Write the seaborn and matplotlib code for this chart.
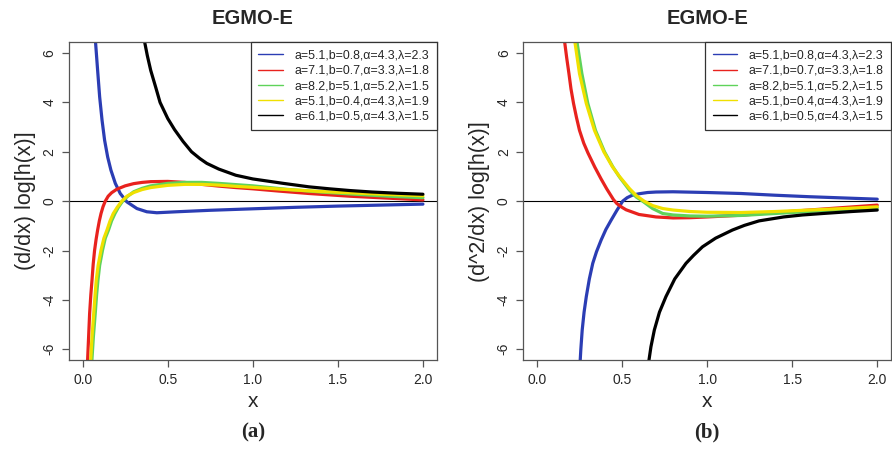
import matplotlib
matplotlib.use("Agg")
import matplotlib.pyplot as plt
import pandas as pd
import seaborn as sns

labels = ["a=5.1,b=0.8,α=4.3,λ=2.3",
          "a=7.1,b=0.7,α=3.3,λ=1.8",
          "a=8.2,b=5.1,α=5.2,λ=1.5",
          "a=5.1,b=0.4,α=4.3,λ=1.9",
          "a=6.1,b=0.5,α=4.3,λ=1.5"]
colors = ["#2b3db4", "#e8221e", "#5fd35a", "#f0e000", "#000000"]

# panel (a): (d/dx) log[h(x)]
blue_a_x = [0.074, 0.088, 0.100, 0.114, 0.129, 0.147, 0.166, 0.192, 0.221, 0.26, 0.319, 0.377, 0.436, 0.553, 0.75, 1.0, 1.25, 1.5, 1.75, 2.0]
blue_a_y = [6.6, 5.30, 4.22, 3.28, 2.47, 1.79, 1.26, 0.72, 0.31, -0.03, -0.30, -0.43, -0.47, -0.43, -0.37, -0.31, -0.25, -0.2, -0.16, -0.12]
red_a_x = [0.028, 0.035, 0.041, 0.048, 0.055, 0.062, 0.07, 0.079, 0.088, 0.098, 0.108, 0.12, 0.133, 0.15, 0.17, 0.2, 0.25, 0.3, 0.35, 0.4, 0.5, 0.6, 0.7, 0.8, 0.9, 1.0, 1.15, 1.33, 1.57, 1.8, 2.0]
red_a_y = [-6.6, -5.5, -4.55, -3.8, -3.2, -2.55, -2.0, -1.55, -1.17, -0.8, -0.5, -0.22, 0.0, 0.2, 0.34, 0.48, 0.62, 0.71, 0.76, 0.79, 0.8, 0.76, 0.68, 0.61, 0.55, 0.5, 0.41, 0.31, 0.2, 0.12, 0.05]
green_a_x = [0.053, 0.063, 0.074, 0.082, 0.09, 0.1, 0.117, 0.133, 0.152, 0.17, 0.19, 0.21, 0.235, 0.265, 0.3, 0.35, 0.4, 0.5, 0.6, 0.7, 0.8, 0.9, 1.0, 1.2, 1.4, 1.6, 1.8, 2.0]
green_a_y = [-6.6, -5.5, -4.55, -3.8, -3.2, -2.6, -1.98, -1.5, -1.17, -0.8, -0.5, -0.25, 0.0, 0.2, 0.38, 0.52, 0.62, 0.72, 0.76, 0.76, 0.72, 0.67, 0.62, 0.48, 0.37, 0.28, 0.2, 0.14]
yellow_a_x = [0.046, 0.055, 0.065, 0.073, 0.08, 0.091, 0.108, 0.125, 0.143, 0.161, 0.18, 0.203, 0.23, 0.26, 0.3, 0.35, 0.4, 0.5, 0.6, 0.7, 0.8, 0.9, 1.0, 1.2, 1.4, 1.6, 1.8, 2.0]
yellow_a_y = [-6.6, -5.5, -4.55, -3.8, -3.2, -2.6, -1.98, -1.5, -1.17, -0.8, -0.5, -0.25, 0.0, 0.2, 0.35, 0.47, 0.55, 0.64, 0.68, 0.68, 0.65, 0.6, 0.56, 0.47, 0.39, 0.33, 0.27, 0.22]
black_a_x = [0.36, 0.38, 0.40, 0.43, 0.455, 0.5, 0.54, 0.59, 0.64, 0.69, 0.73, 0.8, 0.9, 1.0, 1.1, 1.18, 1.33, 1.45, 1.57, 1.7, 1.85, 2.0]
black_a_y = [6.6, 5.9, 5.3, 4.6, 4.0, 3.35, 2.9, 2.42, 2.0, 1.72, 1.53, 1.3, 1.05, 0.9, 0.8, 0.72, 0.58, 0.5, 0.43, 0.37, 0.32, 0.28]

# panel (b): (d^2/dx) log[h(x)]
blue_b_x = [0.253, 0.258, 0.266, 0.277, 0.29, 0.308, 0.328, 0.35, 0.377, 0.405, 0.436, 0.47, 0.504, 0.53, 0.56, 0.6, 0.65, 0.7, 0.8, 1.0, 1.2, 1.4, 1.6, 1.8, 2.0]
blue_b_y = [-6.6, -6.0, -5.22, -4.5, -3.87, -3.15, -2.52, -2.05, -1.58, -1.15, -0.77, -0.37, 0.0, 0.14, 0.24, 0.3, 0.35, 0.37, 0.38, 0.35, 0.31, 0.24, 0.18, 0.13, 0.08]
red_b_x = [0.16, 0.175, 0.188, 0.2, 0.215, 0.232, 0.25, 0.275, 0.3, 0.34, 0.377, 0.41, 0.45, 0.47, 0.5, 0.524, 0.6, 0.7, 0.8, 0.9, 1.0, 1.2, 1.4, 1.6, 1.8, 2.0]
red_b_y = [6.6, 5.8, 5.17, 4.55, 3.96, 3.4, 2.87, 2.35, 1.95, 1.38, 0.9, 0.5, 0.06, -0.1, -0.25, -0.35, -0.54, -0.64, -0.68, -0.67, -0.64, -0.57, -0.46, -0.36, -0.26, -0.16]
green_b_x = [0.232, 0.264, 0.299, 0.344, 0.397, 0.446, 0.485, 0.543, 0.583, 0.621, 0.68, 0.739, 0.8, 0.9, 1.0, 1.2, 1.4, 1.6, 1.8, 2.0]
green_b_y = [6.6, 5.17, 3.96, 2.87, 2.0, 1.39, 0.98, 0.45, 0.17, 0.0, -0.30, -0.50, -0.56, -0.6, -0.61, -0.58, -0.5, -0.42, -0.35, -0.28]
yellow_b_x = [0.22, 0.25, 0.29, 0.338, 0.393, 0.443, 0.485, 0.545, 0.585, 0.63, 0.68, 0.74, 0.8, 0.9, 1.0, 1.2, 1.4, 1.6, 1.8, 2.0]
yellow_b_y = [6.6, 5.17, 3.96, 2.87, 2.0, 1.4, 1.0, 0.5, 0.22, 0.0, -0.18, -0.3, -0.36, -0.42, -0.45, -0.46, -0.42, -0.36, -0.3, -0.23]
black_b_x = [0.655, 0.67, 0.69, 0.72, 0.758, 0.81, 0.876, 0.92, 0.973, 1.05, 1.149, 1.22, 1.305, 1.45, 1.56, 1.68, 1.85, 2.0]
black_b_y = [-6.6, -5.9, -5.22, -4.5, -3.87, -3.15, -2.52, -2.2, -1.85, -1.5, -1.17, -0.98, -0.8, -0.64, -0.56, -0.5, -0.42, -0.36]

x_ticks = [0.0, 0.5, 1.0, 1.5, 2.0]
x_tick_labels = ["0.0", "0.5", "1.0", "1.5", "2.0"]
y_ticks = [-6, -4, -2, 0, 2, 4, 6]


def long_frame(series):
    rows = []
    for lab, (xs, ys) in zip(labels, series):
        for xv, yv in zip(xs, ys):
            rows.append([lab, xv, yv])
    return pd.DataFrame(rows, columns=["curve", "x", "y"])


df_a = long_frame([(blue_a_x, blue_a_y), (red_a_x, red_a_y), (green_a_x, green_a_y),
                   (yellow_a_x, yellow_a_y), (black_a_x, black_a_y)])
df_b = long_frame([(blue_b_x, blue_b_y), (red_b_x, red_b_y), (green_b_x, green_b_y),
                   (yellow_b_x, yellow_b_y), (black_b_x, black_b_y)])

sns.set_style("ticks")
plt.rcParams['font.family'] = ['Liberation Sans', 'DejaVu Sans']
plt.rcParams['axes.unicode_minus'] = False

fig = plt.figure(figsize=(8.92, 4.49), dpi=100)
ax_a = fig.add_axes([0.0774, 0.198, 0.412, 0.708])
ax_b = fig.add_axes([0.5867, 0.198, 0.412, 0.708])

panels = [(ax_a, df_a, "(d/dx) log[h(x)]", "(a)"),
          (ax_b, df_b, "(d^2/dx) log[h(x)]", "(b)")]

for ax, df, ylab, tag in panels:
    sns.lineplot(data=df, x="x", y="y", hue="curve", hue_order=labels, palette=colors,
                 estimator=None, sort=False, linewidth=2.3, ax=ax)
    ax.axhline(0, color="black", linewidth=0.8, zorder=1)
    ax.set_xlim(-0.08, 2.08)
    ax.set_ylim(-6.44, 6.44)
    ax.set_xticks(x_ticks)
    ax.set_xticklabels(x_tick_labels)
    ax.set_yticks(y_ticks)
    ax.tick_params(axis="both", direction="out", length=5, width=0.9, color="#555555",
                   labelsize=10, pad=4)
    for t in ax.get_yticklabels():
        t.set_rotation(90)
        t.set_va("center")
    for sp in ax.spines.values():
        sp.set_visible(True)
        sp.set_color("#555555")
        sp.set_linewidth(0.9)
    ax.set_xlabel("x", fontsize=15, labelpad=4)
    ax.set_ylabel(ylab, fontsize=15.5, labelpad=5)
    ax.set_title("EGMO-E", fontsize=14.5, fontweight="bold", pad=13)
    handles, labs = ax.get_legend_handles_labels()
    leg = ax.legend(handles, labs, loc="upper right", borderaxespad=0, fancybox=False,
                    edgecolor="#333333", framealpha=1, fontsize=8.9, handlelength=2.0,
                    handletextpad=0.9, labelspacing=0.26, borderpad=0.6)
    leg.get_frame().set_linewidth(0.9)
    for h in leg.get_lines():
        h.set_linewidth(1.0)
    pos = ax.get_position()
    fig.text((pos.x0 + pos.x1) / 2, 0.036, tag, ha="center", va="center", fontsize=15,
             fontweight="bold", family=["Liberation Serif", "DejaVu Serif"])

fig.savefig("out.png", dpi=100)
